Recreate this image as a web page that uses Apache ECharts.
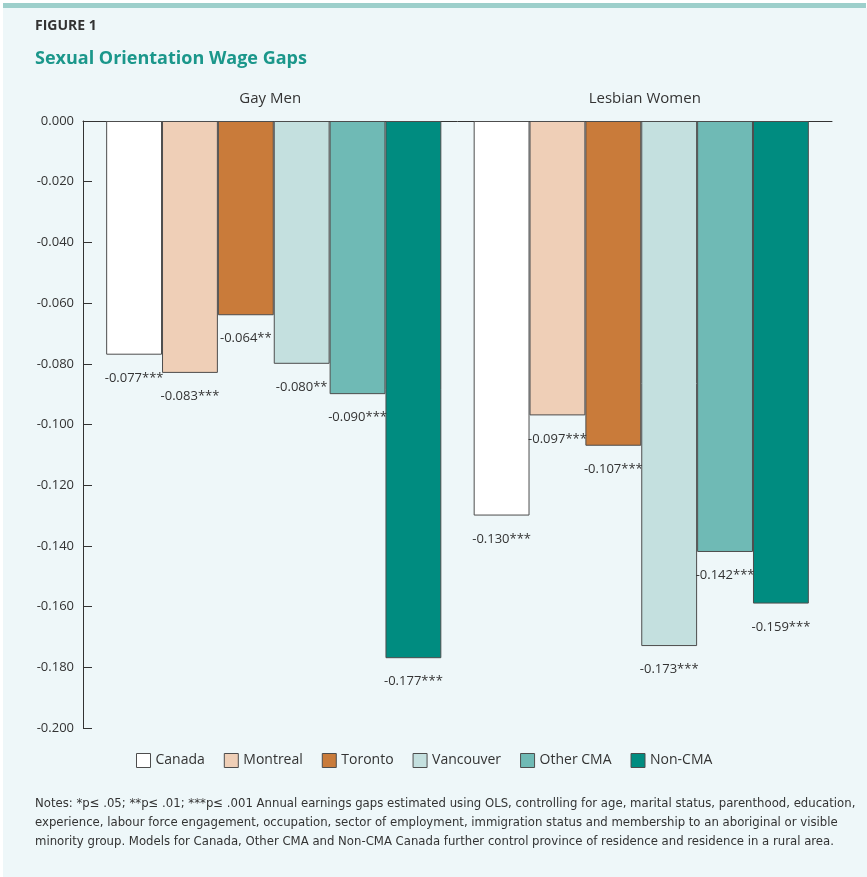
<!DOCTYPE html>
<html>
<head>
<meta charset="utf-8">
<title>Sexual Orientation Wage Gaps</title>
<script src="https://cdn.jsdelivr.net/npm/echarts@6/dist/echarts.min.js"></script>
<style>
    html, body { margin: 0; padding: 0; background: #ffffff; }
    #chart { width: 867px; height: 877px; }
</style>
</head>
<body>
<div id="chart"></div>
<script>
const groups = ['Gay Men', 'Lesbian Women'];
const regions = ['Canada', 'Montreal', 'Toronto', 'Vancouver', 'Other CMA', 'Non-CMA'];
const regionColors = ['#ffffff', '#efcfb7', '#c97b3a', '#c4e0df', '#6fbab5', '#008c80'];

// one array per region: [Gay Men, Lesbian Women]
const canada = [-0.077, -0.130];
const montreal = [-0.083, -0.097];
const toronto = [-0.064, -0.107];
const vancouver = [-0.080, -0.173];
const otherCma = [-0.090, -0.142];
const nonCma = [-0.177, -0.159];

const canadaStars = ['***', '***'];
const montrealStars = ['***', '***'];
const torontoStars = ['**', '***'];
const vancouverStars = ['**', '***'];
const otherCmaStars = ['***', '***'];
const nonCmaStars = ['***', '***'];

const yMin = -0.2;
const yMax = 0;
const yStep = 0.02;

const noteLines = [
    'Notes: *p\u2264 .05; **p\u2264 .01; ***p\u2264 .001 Annual earnings gaps estimated using OLS, controlling for age, marital status, parenthood, education,',
    'experience, labour force engagement, occupation, sector of employment, immigration status and membership to an aboriginal or visible',
    'minority group. Models for Canada, Other CMA and Non-CMA Canada further control province of residence and residence in a rural area.'
];

const seriesValues = [canada, montreal, toronto, vancouver, otherCma, nonCma];
const seriesStars = [canadaStars, montrealStars, torontoStars, vancouverStars, otherCmaStars, nonCmaStars];

const baseFont = 'Open Sans';
const textColor = '#333333';

const chart = echarts.init(document.getElementById('chart'));

// bars live in a second, slightly narrower grid so the groups sit where the original put them
const series = regions.map((name, i) => ({
    name,
    type: 'bar',
    xAxisIndex: 1,
    yAxisIndex: 1,
    data: seriesValues[i],
    barGap: '0%',
    barCategoryGap: '8.8%',
    itemStyle: {
        color: regionColors[i],
        borderColor: '#4d4d4d',
        borderWidth: 1
    },
    label: {
        show: true,
        position: 'bottom',
        distance: 17,
        color: textColor,
        fontFamily: baseFont,
        fontSize: 13,
        formatter: (p) => p.value.toFixed(3) + seriesStars[i][p.dataIndex]
    }
}));

const noteGraphics = noteLines.map((line, i) => ({
    type: 'text',
    left: 35,
    top: 797 + i * 19,
    style: {
        text: line,
        fill: textColor,
        font: '13px "DejaVu Sans Condensed", "DejaVu Sans"'
    }
}));

chart.setOption({
    backgroundColor: 'transparent',
    animation: false,
    textStyle: { fontFamily: baseFont },
    graphic: [
        {
            type: 'rect',
            z: -10,
            shape: { x: 3, y: 8, width: 864, height: 869 },
            style: { fill: '#eef7f9' }
        },
        {
            type: 'rect',
            z: -10,
            shape: { x: 3, y: 3, width: 863, height: 5 },
            style: { fill: '#9dcfcb' }
        },
        {
            type: 'text',
            left: 35,
            top: 19,
            style: {
                text: 'FIGURE 1',
                fill: textColor,
                font: 'bold 14px "Open Sans"'
            }
        },
        {
            type: 'text',
            left: 35,
            top: 50,
            style: {
                text: 'Sexual Orientation Wage Gaps',
                fill: '#1b978b',
                font: 'bold 18px "Open Sans"'
            }
        },
        ...noteGraphics
    ],
    legend: {
        data: regions,
        top: 748,
        left: 131,
        icon: 'rect',
        itemWidth: 14,
        itemHeight: 14,
        itemGap: 19,
        itemStyle: {
            borderColor: '#4d4d4d',
            borderWidth: 1
        },
        textStyle: {
            color: textColor,
            fontFamily: baseFont,
            fontSize: 14
        }
    },
    grid: [
        { left: 83, right: 35, top: 121, bottom: 149 },
        { left: 90, right: 42, top: 121, bottom: 149 }
    ],
    xAxis: [
        {
            type: 'category',
            gridIndex: 0,
            position: 'top',
            data: groups,
            axisLine: {
                onZero: false,
                lineStyle: { color: '#333333', width: 1 }
            },
            axisTick: { show: false },
            axisLabel: {
                margin: 15,
                color: textColor,
                fontFamily: baseFont,
                fontSize: 15
            },
            splitLine: { show: false }
        },
        {
            type: 'category',
            gridIndex: 1,
            position: 'top',
            data: groups,
            show: false
        }
    ],
    yAxis: [
        {
            type: 'value',
            gridIndex: 0,
            min: yMin,
            max: yMax,
            interval: yStep,
            axisLine: {
                show: true,
                lineStyle: { color: '#333333', width: 1 }
            },
            axisTick: {
                show: true,
                inside: true,
                length: 9,
                lineStyle: { color: '#333333' }
            },
            axisLabel: {
                margin: 9,
                color: textColor,
                fontFamily: baseFont,
                fontSize: 13,
                formatter: (v) => v.toFixed(3)
            },
            splitLine: { show: false }
        },
        {
            type: 'value',
            gridIndex: 1,
            min: yMin,
            max: yMax,
            interval: yStep,
            show: false
        }
    ],
    series
});
</script>
</body>
</html>
